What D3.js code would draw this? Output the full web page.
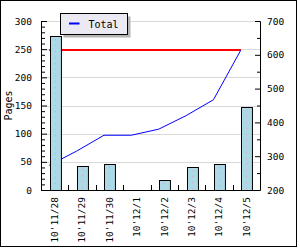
<!DOCTYPE html>
<html>
<head>
<meta charset="utf-8">
<script src="https://cdn.jsdelivr.net/npm/d3@7"></script>
<style>
  body { margin: 0; background: #fff; }
  svg text { font-family: "DejaVu Sans Mono", monospace; font-size: 9.5px; fill: #000; }
</style>
</head>
<body>
<div id="chart"></div>
<script>
// data
const dates = ["10'11/28", "10'11/29", "10'11/30", "10'12/1", "10'12/2", "10'12/3", "10'12/4", "10'12/5"];
const pages = [273, 42, 47, 0, 18, 40, 47, 147];
const totals = [273, 315, 362, 362, 380, 420, 467, 614];
const leftTicks = [0, 50, 100, 150, 200, 250, 300];
const rightTicks = [200, 300, 400, 500, 600, 700];
const seriesName = 'Total';
const yTitle = 'Pages';

const W = 300, H = 250;
const margin = { top: 21, right: 40, bottom: 60, left: 41 };
const plotW = W - margin.left - margin.right;
const plotH = H - margin.top - margin.bottom;

const svg = d3.select('#chart').append('svg')
  .attr('width', W)
  .attr('height', H);

// outer frame
svg.append('rect')
  .attr('x', 0.5).attr('y', 0.5)
  .attr('width', 296).attr('height', 246)
  .attr('fill', '#fff')
  .attr('stroke', '#000');

const g = svg.append('g')
  .attr('transform', 'translate(' + margin.left + ',' + margin.top + ')');

const x = d3.scaleBand().domain(dates).range([0, plotW]);
const yL = d3.scaleLinear().domain([0, 300]).range([plotH, 0]);
const yR = d3.scaleLinear().domain([200, 700]).range([plotH, 0]);
const barW = x.bandwidth() * 0.4;
const cx = d => Math.round(x(d) + x.bandwidth() / 2);

// grid
g.selectAll('.grid')
  .data(leftTicks.filter(d => d > 0))
  .enter().append('line')
  .attr('x1', 0).attr('x2', plotW)
  .attr('y1', d => Math.round(yL(d)) + 0.5)
  .attr('y2', d => Math.round(yL(d)) + 0.5)
  .attr('stroke', '#d9d9d9');

// line points sit at the left edge of each bar
const px = d => x(d) + x.bandwidth() / 2 - barW / 2;

// max line
g.append('line')
  .attr('x1', px(dates[0]))
  .attr('x2', px(dates[dates.length - 1]))
  .attr('y1', yR(d3.max(totals)))
  .attr('y2', yR(d3.max(totals)))
  .attr('stroke', '#ff0000')
  .attr('stroke-width', 2);

// cumulative line
g.append('path')
  .datum(totals)
  .attr('fill', 'none')
  .attr('stroke', '#0000ff')
  .attr('stroke-width', 1)
  .attr('d', d3.line()
    .x((d, i) => px(dates[i]))
    .y(d => yR(d)));

// bars
const barData = dates.map((d, i) => ({ date: d, value: pages[i] })).filter(d => d.value > 0);

const bars = g.selectAll('.bar')
  .data(barData)
  .enter().append('g')
  .attr('class', 'bar');

bars.append('rect')
  .attr('x', d => cx(d.date) - Math.round(barW / 2) + 0.5)
  .attr('y', d => Math.round(yL(d.value)) + 0.5)
  .attr('width', barW)
  .attr('height', d => plotH - Math.round(yL(d.value)))
  .attr('fill', '#add8e6')
  .attr('stroke', '#000');

bars.append('line')
  .attr('x1', d => cx(d.date) + 0.5)
  .attr('x2', d => cx(d.date) + 0.5)
  .attr('y1', d => Math.round(yL(d.value)) + 3)
  .attr('y2', plotH - 1)
  .attr('stroke', '#dba8b4')
  .attr('stroke-dasharray', '1,5');

// left axis
g.append('g')
  .call(d3.axisLeft(yL).tickValues(leftTicks).tickSize(-6).tickPadding(9));
g.append('g')
  .call(d3.axisLeft(yL).tickValues(d3.range(0, 301, 10).filter(v => v % 50)).tickSize(-4).tickFormat(''))
  .select('.domain').remove();

// right axis
g.append('g')
  .attr('transform', 'translate(' + plotW + ',0)')
  .call(d3.axisRight(yR).tickValues(rightTicks).tickSize(-5).tickPadding(7));
g.append('g')
  .attr('transform', 'translate(' + plotW + ',0)')
  .call(d3.axisRight(yR).tickValues([250, 350, 450, 550, 650]).tickSize(-3).tickFormat(''))
  .select('.domain').remove();

// bottom axis
const bottom = g.append('g')
  .attr('transform', 'translate(0,' + plotH + ')');
bottom.append('line')
  .attr('x1', 0).attr('x2', plotW)
  .attr('y1', 0.5).attr('y2', 0.5)
  .attr('stroke', '#000');
bottom.selectAll('.sep')
  .data(dates.slice(1))
  .enter().append('line')
  .attr('x1', d => Math.round(x(d)) + 0.5)
  .attr('x2', d => Math.round(x(d)) + 0.5)
  .attr('y1', 0).attr('y2', -5)
  .attr('stroke', '#000');
bottom.selectAll('.lbl')
  .data(dates)
  .enter().append('text')
  .attr('transform', d => 'translate(' + (x(d) + x.bandwidth() / 2) + ',7) rotate(-90)')
  .attr('text-anchor', 'end')
  .attr('dy', '0.35em')
  .text(d => d);

g.selectAll('.domain').attr('stroke', '#000');
g.selectAll('.tick line').attr('stroke', '#000');
g.selectAll('.tick text').style('font-family', '"DejaVu Sans Mono", monospace').style('font-size', '9.5px');

// y title
svg.append('text')
  .attr('transform', 'translate(8,' + (margin.top + plotH / 2) + ') rotate(-90)')
  .attr('text-anchor', 'middle')
  .attr('dy', '0.35em')
  .style('font-size', '10px')
  .text(yTitle);

// legend
const lg = svg.append('g').attr('transform', 'translate(60.5,13.5)');
lg.append('rect')
  .attr('x', 3).attr('y', 3)
  .attr('width', 67).attr('height', 21)
  .attr('fill', '#b4b4b4');
lg.append('rect')
  .attr('width', 67).attr('height', 21)
  .attr('fill', '#ebe9f1')
  .attr('stroke', '#000');
lg.append('line')
  .attr('x1', 8.5).attr('x2', 19)
  .attr('y1', 10).attr('y2', 10)
  .attr('stroke', '#0000ff')
  .attr('stroke-width', 2);
lg.append('text')
  .attr('x', 28).attr('y', 10.5)
  .attr('dy', '0.35em')
  .style('font-size', '10px')
  .text(seriesName);
</script>
</body>
</html>
